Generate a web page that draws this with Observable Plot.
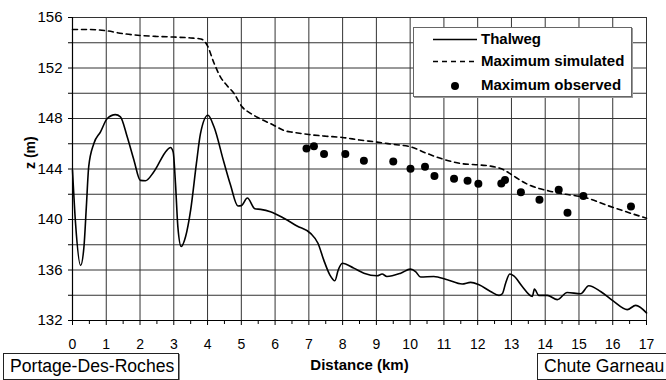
<!DOCTYPE html>
<html>
<head>
<meta charset="utf-8">
<script src="https://cdn.jsdelivr.net/npm/d3@7"></script>
<script src="https://cdn.jsdelivr.net/npm/@observablehq/plot@0.6"></script>
<style>
  body { margin: 0; background: white; font-family: "Liberation Sans", Arial, sans-serif; overflow: hidden; }
  #wrap { position: relative; width: 666px; height: 380px; overflow: hidden; }
  #chart svg { display: block; }
  .legend { position: absolute; left: 413px; top: 27px; width: 219px; height: 70px; box-sizing: border-box;
            background: white; border: 1px solid #666; box-shadow: 1px 1px 0 #999; }
  .row { position: absolute; left: 0; height: 20px; width: 100%; }
  .row svg { position: absolute; left: 19px; top: 0; }
  .row span { position: absolute; left: 67px; top: 0; line-height: 20px; font-size: 15px; font-weight: bold; white-space: nowrap; color: #000; }
  .place { position: absolute; top: 353px; height: 27px; box-sizing: border-box; border: 1px solid #222;
           box-shadow: 1px 1px 0 #888; background: white; font-size: 17.6px; line-height: 25px; padding-left: 6px; white-space: nowrap; }
</style>
</head>
<body>
<div id="wrap">
  <div id="chart"></div>
  <div class="legend" id="legend"></div>
  <div class="place" id="p1" style="left:3px;width:176px;"></div>
  <div class="place" id="p2" style="left:537px;width:150px;padding-left:6px;"></div>
</div>
<script>
// ---- data ----
const seriesNames = ["Thalweg", "Maximum simulated", "Maximum observed"];
const placeNames = ["Portage-Des-Roches", "Chute Garneau"];
const xLabel = "Distance (km)";
const yLabel = "z (m)";
const xTicks = d3.range(0, 18, 1);
const xMinorTicks = d3.range(0.5, 17, 1);
const yTicks = [132, 136, 140, 144, 148, 152, 156];
const yGrid = [134, 136, 138, 140, 142, 144, 146, 148, 150, 152, 154, 156];

// [km, z]
const thalweg = [[0.0,143.9],[0.09,139.7],[0.24,136.36],[0.34,137.86],[0.41,141.0],[0.48,144.18],[0.63,146.0],[0.83,146.94],[1.03,148.0],[1.27,148.31],[1.42,148.13],[1.62,146.55],[1.82,144.7],[2.01,143.1],[2.16,143.07],[2.41,143.78],[2.80,145.5],[2.90,145.7],[2.98,145.36],[3.05,142.86],[3.12,139.44],[3.22,137.86],[3.35,138.65],[3.50,140.76],[3.67,144.44],[3.79,146.8],[4.01,148.26],[4.19,147.34],[4.48,144.57],[4.68,142.73],[4.90,141.07],[5.0,141.1],[5.18,141.7],[5.40,140.85],[5.57,140.8],[5.86,140.62],[6.26,140.1],[6.65,139.49],[7.05,138.9],[7.27,138.12],[7.44,136.8],[7.62,135.62],[7.77,135.15],[7.87,136.0],[7.99,136.54],[8.33,136.15],[8.63,135.75],[9.02,135.54],[9.17,135.68],[9.31,135.49],[9.72,135.75],[10.01,136.07],[10.16,135.88],[10.31,135.44],[10.70,135.49],[11.10,135.23],[11.54,134.89],[11.79,135.02],[12.04,134.83],[12.38,134.3],[12.63,133.99],[12.73,134.12],[12.83,134.97],[12.95,135.68],[13.07,135.54],[13.32,134.7],[13.62,133.91],[13.68,134.49],[13.81,133.99],[14.06,133.99],[14.36,133.65],[14.65,134.22],[15.05,134.12],[15.29,134.75],[15.64,134.3],[16.03,133.51],[16.43,132.86],[16.68,133.2],[17.0,132.6]];

const simulated = [[0,155.05],[0.5,155.05],[1.0,154.95],[1.5,154.72],[2.0,154.58],[2.5,154.5],[3.0,154.45],[3.5,154.38],[3.8,154.3],[3.99,153.8],[4.19,152.4],[4.38,151.3],[4.58,150.6],[4.78,150.0],[5.03,148.9],[5.25,148.45],[5.47,148.1],[5.96,147.47],[6.26,147.05],[6.56,146.9],[7.0,146.73],[7.5,146.6],[7.99,146.5],[8.5,146.3],[9.02,146.13],[9.5,145.95],[10.01,145.76],[10.5,145.23],[11.0,144.76],[11.49,144.44],[12.09,144.31],[12.38,144.23],[12.78,143.92],[13.02,143.52],[13.47,142.8],[14.11,142.26],[14.6,142.0],[15.15,141.76],[15.94,141.02],[16.82,140.25],[17.0,140.1]];

const observed = [[6.93,145.63],[7.15,145.81],[7.45,145.18],[8.08,145.18],[8.63,144.65],[9.50,144.6],[10.01,144.02],[10.44,144.18],[10.72,143.44],[11.30,143.23],[11.70,143.07],[12.02,142.83],[12.70,142.86],[12.81,143.12],[13.28,142.15],[13.83,141.57],[14.40,142.36],[14.66,140.54],[15.13,141.86],[16.54,141.02]];

// ---- chart ----
const gridColor = "#333";
const chart = Plot.plot({
  width: 666, height: 380,
  marginLeft: 72, marginRight: 20, marginTop: 17, marginBottom: 60,
  x: {domain: [0, 17]},
  y: {domain: [132, 156]},
  style: {fontFamily: "'Liberation Sans', Arial, sans-serif", color: "black", background: "white"},
  marks: [
    Plot.ruleY(yGrid, {stroke: gridColor, strokeWidth: 1}),
    Plot.ruleX(xTicks.filter(d => d > 0), {stroke: gridColor, strokeWidth: 1}),
    Plot.axisX({ticks: xTicks, tickSize: 5, tickPadding: 14, fontSize: 14, label: null, stroke: "black"}),
    Plot.axisX({ticks: xMinorTicks, tickSize: 4, text: null, label: null, stroke: "black"}),
    Plot.axisY({ticks: yGrid.concat([132]), tickSize: 4, text: null, label: null, stroke: "black"}),
    Plot.axisY({ticks: yTicks, tickSize: 0, tickPadding: 10, fontSize: 15, label: null}),
    Plot.ruleX([0], {stroke: "black", strokeWidth: 1.2}),
    Plot.ruleY([132], {stroke: "black", strokeWidth: 1.2}),
    Plot.line(thalweg, {x: d => d[0], y: d => d[1], stroke: "black", strokeWidth: 1.6, curve: "monotone-x"}),
    Plot.line(simulated, {x: d => d[0], y: d => d[1], stroke: "black", strokeWidth: 1.6, strokeDasharray: "5,4", curve: "monotone-x"}),
    Plot.dot(observed, {x: d => d[0], y: d => d[1], r: 4, fill: "black", stroke: "none"}),
    Plot.text([xLabel], {frameAnchor: "bottom", dy: 49, fontSize: 15, fontWeight: "bold"}),
    Plot.text([yLabel], {frameAnchor: "left", dx: -42, rotate: -90, fontSize: 14, fontWeight: "bold"})
  ]
});
document.getElementById("chart").appendChild(chart);

// ---- legend ----
const legend = document.getElementById("legend");
const rowTops = [1, 23, 47];
const swatches = [
  '<svg width="44" height="20"><line x1="0" x2="44" y1="10.5" y2="10.5" stroke="black" stroke-width="1.6"/></svg>',
  '<svg width="44" height="20"><line x1="0" x2="44" y1="10.5" y2="10.5" stroke="black" stroke-width="1.6" stroke-dasharray="5,4"/></svg>',
  '<svg width="44" height="20"><circle cx="22" cy="11" r="4" fill="black"/></svg>'
];
seriesNames.forEach((name, i) => {
  const row = document.createElement("div");
  row.className = "row";
  row.style.top = rowTops[i] + "px";
  row.innerHTML = swatches[i];
  const span = document.createElement("span");
  span.textContent = name;
  row.appendChild(span);
  legend.appendChild(row);
});
document.getElementById("p1").textContent = placeNames[0];
document.getElementById("p2").textContent = placeNames[1];
</script>
</body>
</html>
